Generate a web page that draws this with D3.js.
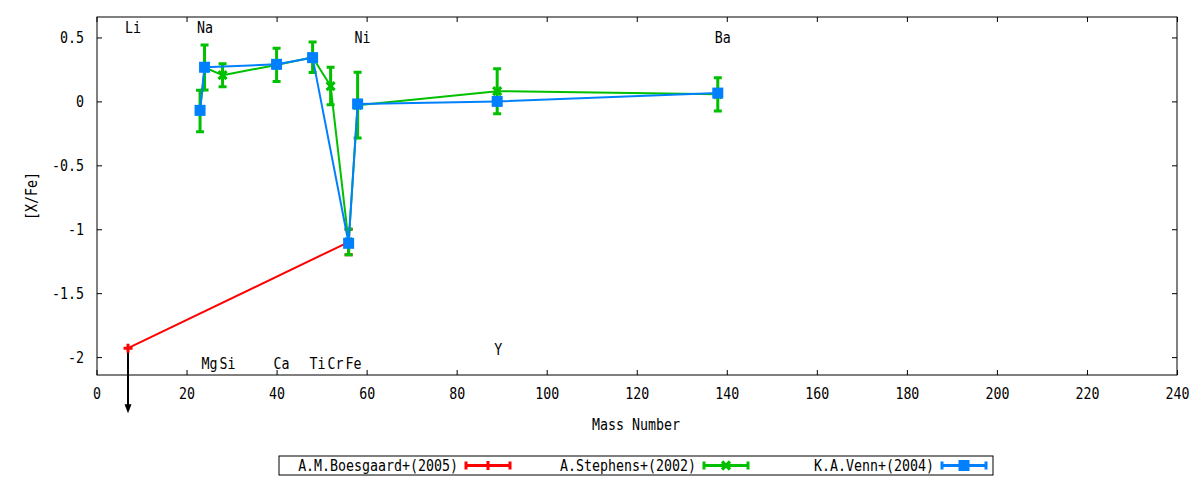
<!DOCTYPE html>
<html>
<head>
<meta charset="utf-8">
<script src="https://cdn.jsdelivr.net/npm/d3@7"></script>
<style>
  html, body { margin: 0; padding: 0; background: #fff; }
  svg { display: block; }
  text { font-family: "DejaVu Sans Mono", monospace; font-size: 15px; fill: #000; }
</style>
</head>
<body>
<svg id="chart" width="1200" height="480"></svg>
<script>
// ---------------- data ----------------
const elements     = ["Li", "Na", "Mg", "Si", "Ca", "Ti", "Cr", "Fe", "Ni", "Y", "Ba"];
const elementMass  = [7, 23, 24, 28, 40, 48, 52, 56, 58, 89, 138];
const elementLabelY = [0.58, 0.58, -2.05, -2.05, -2.05, -2.05, -2.05, -2.05, 0.5, -1.94, 0.5];

const seriesNames = ["A.M.Boesgaard+(2005)", "A.Stephens+(2002)", "K.A.Venn+(2004)"];

const boesgaardMass = [7, 56];
const boesgaardVal  = [-1.93, -1.10];
const boesgaardErr  = [0, 0.10];
const boesgaardLimitMass = [7];          // upper limit (Li)
const boesgaardLimitFrom = [-1.93];
const boesgaardLimitTo   = [-2.44];

const stephensMass = [23, 24, 28, 40, 48, 52, 56, 58, 89, 138];
const stephensVal  = [-0.075, 0.265, 0.205, 0.285, 0.345, 0.12, -1.10, -0.03, 0.08, 0.055];
const stephensErr  = [0.163, 0.176, 0.09, 0.13, 0.12, 0.147, 0.10, 0.257, 0.176, 0.13];

const vennMass = [23, 24, 40, 48, 56, 58, 89, 138];
const vennVal  = [-0.07, 0.267, 0.29, 0.342, -1.11, -0.02, 0.0, 0.065];
const vennErr  = [0, 0, 0, 0, 0, 0, 0, 0];

const xTicks = [0, 20, 40, 60, 80, 100, 120, 140, 160, 180, 200, 220, 240];
const yTicks = [0.5, 0, -0.5, -1, -1.5, -2];
const xTitle = "Mass Number";
const yTitle = "[X/Fe]";

// ---------------- layout ----------------
const SX = 0.886;               // horizontal condensing of the mono font
const colors = ["#ff0000", "#00c000", "#0080ff"];
const svg = d3.select("#chart");
const L = 97, R = 1177, T = 17, B = 375;
const x = d3.scaleLinear().domain([0, 240]).range([L - 0.5, R]);
const y = d3.scaleLinear().domain([-2.14, 0.66]).range([B, T]);

function label(parent, px, py, s, anchor, rot) {
  return parent.append("text")
    .attr("transform", `translate(${px},${py})${rot ? " rotate(-90)" : ""} scale(${SX},1)`)
    .attr("text-anchor", anchor || "start")
    .text(s);
}

// axes (inward ticks, mirrored)
const tk = 5;
const gx = svg.append("g").attr("transform", `translate(0,${B})`)
  .call(d3.axisBottom(x).tickValues(xTicks).tickSizeInner(-tk).tickSizeOuter(0).tickPadding(19).tickFormat(d3.format("d")));
const gx2 = svg.append("g").attr("transform", `translate(0,${T})`)
  .call(d3.axisTop(x).tickValues(xTicks).tickSizeInner(-tk).tickSizeOuter(0).tickFormat(""));
const gy = svg.append("g").attr("transform", `translate(${L},0)`)
  .call(d3.axisLeft(y).tickValues(yTicks).tickSizeInner(-tk).tickSizeOuter(0).tickFormat(d => String(d)));
const gy2 = svg.append("g").attr("transform", `translate(${R},0)`)
  .call(d3.axisRight(y).tickValues(yTicks).tickSizeInner(-tk).tickSizeOuter(0).tickFormat(""));
[gx, gx2, gy, gy2].forEach(g => {
  g.select(".domain").remove();
  g.selectAll("line").attr("stroke", "#000");
  g.attr("font-family", null).attr("font-size", null);
});
gx.selectAll("text").attr("transform", `scale(${SX},1)`).attr("dy", "0.36em").attr("y", 19);
gy.selectAll("text").attr("x", -13 / SX).attr("dy", "0.36em").attr("transform", `scale(${SX},1)`);

svg.append("rect").attr("x", L).attr("y", T).attr("width", R - L).attr("height", B - T)
  .attr("fill", "none").attr("stroke", "#000").attr("stroke-width", 1);

// titles
label(svg, (L + R) / 2 - 1, 430, xTitle, "middle");
label(svg, 37, (T + B) / 2, yTitle, "middle", true);

// element labels
elements.forEach((e, i) => {
  label(svg, x(elementMass[i]) - 3, y(elementLabelY[i]) + 5.4, e, "start");
});

// ---------------- series drawing ----------------
function drawMarker(g, kind, cx, cy, color) {
  if (kind === 0) {
    g.append("path").attr("d", `M${cx - 4.5},${cy}H${cx + 4.5}M${cx},${cy - 4.5}V${cy + 4.5}`)
      .attr("stroke", color).attr("stroke-width", 3).attr("fill", "none");
  } else if (kind === 1) {
    g.append("path").attr("d", `M${cx - 4},${cy - 4}L${cx + 4},${cy + 4}M${cx - 4},${cy + 4}L${cx + 4},${cy - 4}`)
      .attr("stroke", color).attr("stroke-width", 3.2).attr("fill", "none");
  } else {
    g.append("rect").attr("x", cx - 5.5).attr("y", cy - 5.5).attr("width", 11).attr("height", 11).attr("fill", color);
  }
}

function drawSeries(mass, val, err, color, kind) {
  const g = svg.append("g");
  const line = d3.line().x((d, i) => x(mass[i])).y((d, i) => y(val[i]));
  g.append("path").datum(val).attr("d", line)
    .attr("fill", "none").attr("stroke", color).attr("stroke-width", 2).attr("stroke-linejoin", "round");
  val.forEach((v, i) => {
    const e = err[i];
    if (e > 0) {
      const cx = x(mass[i]), y1 = y(v + e), y2 = y(v - e);
      g.append("path").attr("d", `M${cx},${y1}V${y2}M${cx - 4},${y1}H${cx + 4}M${cx - 4},${y2}H${cx + 4}`)
        .attr("stroke", color).attr("stroke-width", 3).attr("fill", "none");
    }
  });
  val.forEach((v, i) => drawMarker(g, kind, x(mass[i]), y(v), color));
}

// upper-limit arrow for Boesgaard Li
boesgaardLimitMass.forEach((m, i) => {
  const cx = x(m), y1 = y(boesgaardLimitFrom[i]), y2 = y(boesgaardLimitTo[i]);
  svg.append("line").attr("x1", cx).attr("x2", cx).attr("y1", y1).attr("y2", y2 - 6)
    .attr("stroke", "#000").attr("stroke-width", 2);
  svg.append("path").attr("d", `M${cx},${y2}L${cx - 3.5},${y2 - 9}L${cx + 3.5},${y2 - 9}Z`).attr("fill", "#000");
});

drawSeries(boesgaardMass, boesgaardVal, boesgaardErr, colors[0], 0);
drawSeries(stephensMass, stephensVal, stephensErr, colors[1], 1);
drawSeries(vennMass, vennVal, vennErr, colors[2], 2);

// ---------------- legend ----------------
const leg = svg.append("g");
leg.append("rect").attr("x", 279).attr("y", 456).attr("width", 714).attr("height", 19)
  .attr("fill", "none").attr("stroke", "#000").attr("stroke-width", 1);
const legSampleX = [466, 704, 942];
seriesNames.forEach((name, i) => {
  const sx = legSampleX[i], cy = 465.5, len = 44, c = colors[i];
  label(leg, sx - 8, cy + 5.4, name, "end");
  leg.append("path").attr("d", `M${sx},${cy}H${sx + len}M${sx},${cy - 4}V${cy + 4}M${sx + len},${cy - 4}V${cy + 4}`)
    .attr("stroke", c).attr("stroke-width", 3).attr("fill", "none");
  drawMarker(leg, i, sx + len / 2, cy, c);
});
</script>
</body>
</html>
